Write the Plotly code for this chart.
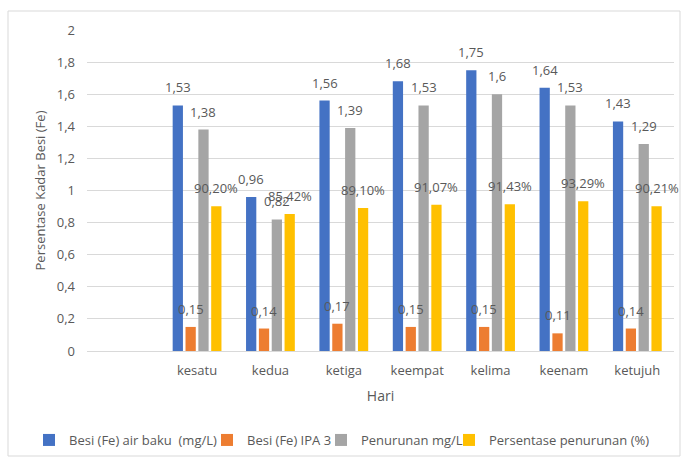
import plotly.graph_objects as go

days = ["kesatu", "kedua", "ketiga", "keempat", "kelima", "keenam", "ketujuh"]
raw = [1.53, 0.96, 1.56, 1.68, 1.75, 1.64, 1.43]
ipa = [0.15, 0.14, 0.17, 0.15, 0.15, 0.11, 0.14]
pen = [1.38, 0.82, 1.39, 1.53, 1.60, 1.53, 1.29]
pct = [90.20, 85.42, 89.10, 91.07, 91.43, 93.29, 90.21]
y_ticks = [0, 0.2, 0.4, 0.6, 0.8, 1.0, 1.2, 1.4, 1.6, 1.8, 2.0]

names = ["Besi (Fe) air baku  (mg/L)", "Besi (Fe) IPA 3", "Penurunan mg/L", "Persentase penurunan (%)"]
colors = ["#4472C4", "#ED7D31", "#A5A5A5", "#FFC000"]

def fmt(v, dec=2):
    s = f"{v:.{dec}f}".rstrip("0").rstrip(".")
    return s.replace(".", ",")

series = [raw, ipa, pen, [p / 100 for p in pct]]
labels = [
    [fmt(v) for v in raw],
    [fmt(v) for v in ipa],
    [fmt(v) for v in pen],
    [f"{p:.2f}".replace(".", ",") + "%" for p in pct],
]

W, H = 681, 457
ml, mr, mt, mb = 87, 7, 30, 106
pw, ph = W - ml - mr, H - mt - mb

def px2paper_x(px):
    return (px - ml) / pw

def px2paper_y(py):
    return 1 - (py - mt) / ph

xpos = list(range(1, len(days) + 1))
bargap, groupgap = 0.3, 0.2
slot = (1 - bargap) / 4
font_c = "#595959"
legend_keys = ["legend", "legend2", "legend3", "legend4"]
legend_text_x = [69, 247, 361, 489]

fig = go.Figure()
for i, (vals, name, col) in enumerate(zip(series, names, colors)):
    fig.add_trace(go.Bar(x=xpos, y=vals, name=name, marker_color=col, marker_line_width=0,
                         legend=legend_keys[i], showlegend=True))
    off = (i - 1.5) * slot
    for x, v, t in zip(xpos, vals, labels[i]):
        fig.add_annotation(x=x + off, y=v, text=t, showarrow=False, yanchor="bottom",
                           yshift=7, font=dict(size=13, color=font_c))

fig.add_shape(type="rect", xref="paper", yref="paper",
              x0=px2paper_x(8), x1=px2paper_x(680), y0=px2paper_y(11), y1=px2paper_y(456),
              line=dict(color="#d9d9d9", width=1), fillcolor="rgba(0,0,0,0)")

legends = {}
for key, tx in zip(legend_keys, legend_text_x):
    legends[key] = dict(orientation="h", xref="container", yref="container",
                        x=(tx - 40) / W, xanchor="left",
                        y=1 - 440 / H, yanchor="middle", bgcolor="rgba(0,0,0,0)",
                        font=dict(size=13, color=font_c), itemwidth=30)

fig.update_layout(
    width=W, height=H,
    margin=dict(l=ml, r=mr, t=mt, b=mb, autoexpand=False),
    barmode="group", bargap=bargap, bargroupgap=groupgap,
    plot_bgcolor="white", paper_bgcolor="white",
    font=dict(family="Open Sans", size=13, color=font_c),
    xaxis=dict(range=[-0.5, len(days) + 0.5], tickvals=xpos, ticktext=days,
               showgrid=False, zeroline=False, showline=False, ticks="",
               ticklabelstandoff=10, automargin=False,
               tickfont=dict(size=13, color=font_c),
               title=dict(text="Hari", font=dict(size=14, color=font_c), standoff=13)),
    yaxis=dict(range=[0, 2.0], tickvals=y_ticks, automargin=False,
               ticktext=[fmt(v, 1) for v in y_ticks],
               showgrid=True, gridcolor="#d9d9d9", gridwidth=1,
               zeroline=True, zerolinecolor="#d9d9d9", zerolinewidth=1,
               showline=False, ticks="", ticklen=0, ticklabelstandoff=11,
               tickfont=dict(size=13, color=font_c),
               title=dict(text="Persentase Kadar Besi (Fe)", font=dict(size=13, color=font_c), standoff=8)),
    **legends,
)
fig.write_html("out.html")
